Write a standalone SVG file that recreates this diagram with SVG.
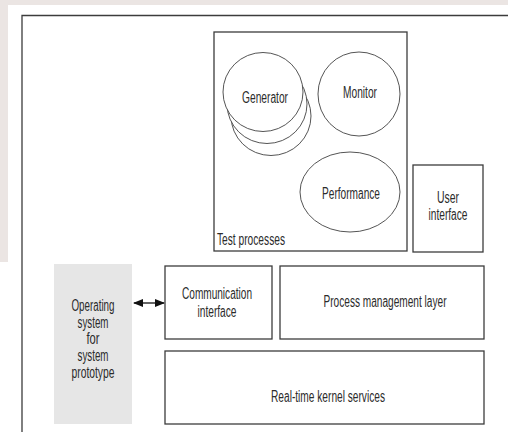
<svg xmlns="http://www.w3.org/2000/svg" width="508" height="432" viewBox="0 0 508 432">
<style>
.box{fill:#fff;stroke:#3c3c3c;stroke-width:1.3}
.ell{fill:#fff;stroke:#555;stroke-width:1}
.os{fill:#e6e6e6;stroke:none}
.t{font-family:"Liberation Sans",Arial,sans-serif;font-size:16px;fill:#2b2b2b}
.c{text-anchor:middle}
.con{stroke:#111;stroke-width:1.3;fill:none}
</style>
<defs>
<marker id="ah" viewBox="0 0 10 8" refX="9" refY="4" markerWidth="10" markerHeight="8" markerUnits="userSpaceOnUse" orient="auto-start-reverse">
<path d="M0,0 L10,4 L0,8 z" fill="#111"/>
</marker>
</defs>
<rect x="0" y="0" width="508" height="432" fill="#fff"/>
<rect x="0" y="0" width="508" height="5" fill="#ebe5e3"/>
<rect x="0" y="0" width="8" height="262" fill="#ebe5e3"/>
<path d="M22,432 V15.5 H508" fill="none" stroke="#3c3c3c" stroke-width="1.3"/>

<g id="test-processes">
<rect class="box" x="214" y="32" width="193" height="219"/>
<text class="t" x="217" y="245" textLength="68" lengthAdjust="spacingAndGlyphs">Test processes</text>
</g>
<g id="generator">
<ellipse class="ell" cx="271" cy="116" rx="40" ry="39.5"/>
<ellipse class="ell" cx="267" cy="104" rx="40" ry="39.5"/>
<ellipse class="ell" cx="263" cy="92" rx="40" ry="39.5"/>
<text class="t c" x="265" y="103" textLength="46" lengthAdjust="spacingAndGlyphs">Generator</text>
</g>
<g id="monitor">
<ellipse class="ell" cx="359" cy="94" rx="41" ry="42"/>
<text class="t c" x="360" y="98" textLength="34" lengthAdjust="spacingAndGlyphs">Monitor</text>
</g>
<g id="performance">
<ellipse class="ell" cx="350" cy="192" rx="50" ry="40"/>
<text class="t c" x="351" y="199" textLength="58" lengthAdjust="spacingAndGlyphs">Performance</text>
</g>
<g id="user-interface">
<rect class="box" x="413" y="165" width="70" height="87"/>
<text class="t c" x="448" y="203" textLength="22" lengthAdjust="spacingAndGlyphs">User</text>
<text class="t c" x="448" y="220" textLength="39" lengthAdjust="spacingAndGlyphs">interface</text>
</g>
<g id="os">
<rect class="os" x="54" y="264" width="78" height="160"/>
<text class="t c" x="93" y="311" textLength="43" lengthAdjust="spacingAndGlyphs">Operating</text>
<text class="t c" x="93" y="328" textLength="31" lengthAdjust="spacingAndGlyphs">system</text>
<text class="t c" x="93" y="344" textLength="13" lengthAdjust="spacingAndGlyphs">for</text>
<text class="t c" x="93" y="361" textLength="31" lengthAdjust="spacingAndGlyphs">system</text>
<text class="t c" x="93" y="378" textLength="43" lengthAdjust="spacingAndGlyphs">prototype</text>
</g>
<g id="communication-interface">
<rect class="box" x="165" y="266" width="107" height="73"/>
<text class="t c" x="217" y="299" textLength="70" lengthAdjust="spacingAndGlyphs">Communication</text>
<text class="t c" x="217" y="317" textLength="39" lengthAdjust="spacingAndGlyphs">interface</text>
</g>
<g id="process-management">
<rect class="box" x="280" y="266" width="204" height="73"/>
<text class="t c" x="385" y="307" textLength="123" lengthAdjust="spacingAndGlyphs">Process management layer</text>
</g>
<g id="kernel">
<rect class="box" x="165" y="351" width="319" height="73"/>
<text class="t c" x="328" y="402" textLength="114" lengthAdjust="spacingAndGlyphs">Real-time kernel services</text>
</g>
<g id="connectors">
<line class="con" x1="134" y1="303" x2="164" y2="303" marker-start="url(#ah)" marker-end="url(#ah)"/>
</g>
</svg>
